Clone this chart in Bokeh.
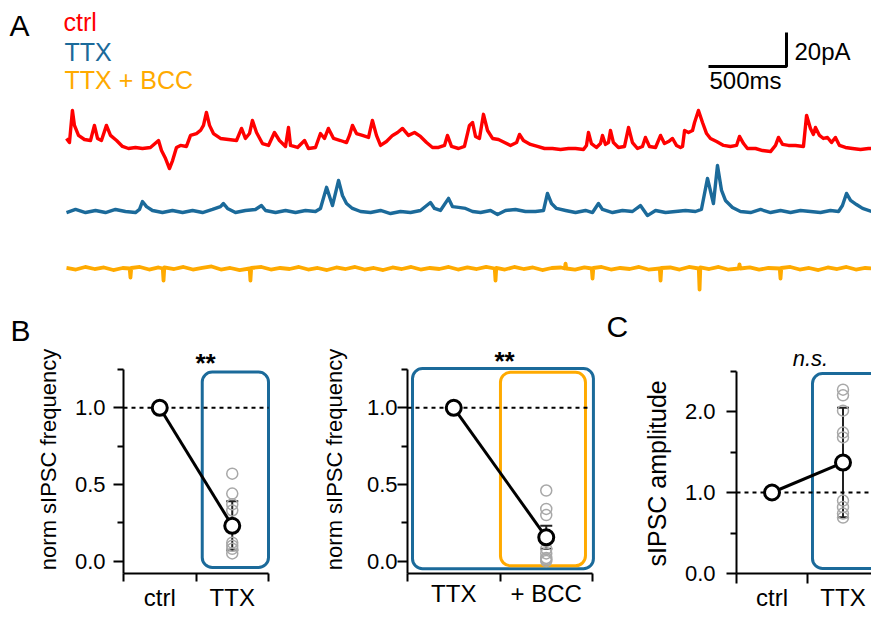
import numpy as np
from bokeh.plotting import figure
from bokeh.layouts import column, row
from bokeh.models import (BoxAnnotation, FixedTicker, Whisker, TeeHead, ColumnDataSource,
                          Range1d, NumeralTickFormatter, GlobalInlineStyleSheet)
from bokeh.embed import file_html
from bokeh.resources import INLINE
from bokeh.core.properties import value

FONT = "Liberation Sans"
RED = "#ff0000"
BLUE = "#1b6a9a"
ORANGE = "#ffaa00"
GREY = "#a8a8a8"
NBSP = "\u00a0"

# ------------------------------------------------------------------ data
trace_labels = ["ctrl", "TTX", "TTX + BCC"]
scale_bar_ms = 500
scale_bar_pA = 20

# ctrl trace (time in ms, current in pA relative to baseline, outward up)
ctrl_t = [0, 19, 38, 51, 77, 115, 154, 179, 199, 224,
          256, 282, 321, 359, 397, 442, 487, 538, 590, 609,
          635, 660, 680, 705, 731, 769, 795, 833, 859, 878,
          897, 917, 942, 987, 1038, 1090, 1122, 1147, 1173, 1192,
          1218, 1256, 1295, 1333, 1365, 1404, 1423, 1436, 1481, 1526,
          1551, 1596, 1628, 1654, 1679, 1712, 1756, 1795, 1814, 1833,
          1859, 1897, 1936, 1961, 1987, 2013, 2051, 2090, 2122, 2154,
          2192, 2231, 2269, 2308, 2346, 2385, 2423, 2442, 2468, 2513,
          2551, 2583, 2603, 2622, 2647, 2673, 2699, 2731, 2769, 2808,
          2846, 2885, 2904, 2929, 2974, 3019, 3064, 3115, 3167, 3218,
          3263, 3314, 3333, 3346, 3365, 3397, 3423, 3436, 3455, 3474,
          3487, 3506, 3538, 3577, 3603, 3628, 3660, 3692, 3711, 3737,
          3776, 3808, 3833, 3859, 3885, 3910, 3936, 3949, 3962, 3987,
          4013, 4026, 4051, 4077, 4103, 4128, 4167, 4212, 4256, 4295,
          4314, 4340, 4365, 4417, 4462, 4513, 4545, 4564, 4590, 4628,
          4673, 4724, 4744, 4769, 4788, 4801, 4827, 4852, 4878, 4904,
          4929, 4955, 4993, 5038, 5090, 5141, 5160]
ctrl_pA = [5.9, 3.5, 22.4, 13.6, 7.7, 5.3, 4.7, 13.6, 5.9, 4.7,
           13.6, 7.7, 4.7, 1.2, 0, 0.6, 0, 0.6, 4.7, -1.2,
           -5.9, -11.8, -7.1, 0.6, 1.8, 1.2, 7.7, 8.8, 10.6, 13.6,
           21.2, 13.6, 8.8, 5.9, 5.3, 4.7, 11.8, 5.9, 8.8, 16.5,
           9.4, 2.9, 1.8, 9.4, 4.7, 1.2, 12.4, 1.8, 0.6, 4.7,
           0, 0.6, 8.8, 5.9, 11.8, 5.9, 4.7, 3.5, 7.7, 13.6,
           8.8, 7.7, 6.5, 16.5, 7.7, 1.8, 4.1, 7.7, 9.4, 11.8,
           7.7, 9.4, 7.1, 3.5, 0.6, 0.6, 1.8, 7.7, 1.2, 0,
           1.2, 13.6, 15.3, 7.1, 5.9, 20.1, 10.6, 5.9, 5.3, 3.5,
           1.8, 3.5, 8.3, 4.7, 2.4, 1.2, 0, 0, -0.6, 0,
           0, -0.6, 1.8, 9.4, 2.9, 0.6, 2.9, 7.7, 2.4, 3.5,
           10.6, 3.5, 0.6, 1.2, 12.4, 3.5, 0, 1.2, 6.5, 1.2,
           0.6, 7.7, 2.9, 4.1, 5.9, 1.8, 0.6, 1.2, 10.6, 9.4,
           10.6, 15.3, 22.4, 15.3, 8.8, 5.9, 4.1, 1.8, 1.2, 1.8,
           7.1, 2.9, 0, 0, -1.2, -1.8, 1.8, 6.5, 2.4, 1.8,
           1.8, 1.2, 19.5, 11.8, 8.3, 12.4, 7.7, 5.9, 6.5, 3.5,
           6.5, 1.8, 0.6, 0, -0.6, 0, 0]

ttx_t = [0, 58, 122, 186, 250, 314, 378, 442, 468, 487,
         513, 551, 615, 679, 744, 808, 872, 936, 987, 1006,
         1032, 1083, 1147, 1211, 1250, 1276, 1340, 1404, 1468, 1532,
         1596, 1628, 1667, 1705, 1744, 1769, 1795, 1833, 1885, 1949,
         2013, 2077, 2141, 2205, 2269, 2333, 2359, 2397, 2449, 2474,
         2513, 2558, 2603, 2654, 2718, 2763, 2814, 2878, 2942, 3006,
         3058, 3083, 3109, 3141, 3199, 3263, 3327, 3372, 3410, 3436,
         3500, 3564, 3628, 3679, 3724, 3776, 3840, 3904, 3968, 4032,
         4070, 4109, 4147, 4173, 4199, 4224, 4269, 4320, 4385, 4449,
         4513, 4577, 4641, 4705, 4769, 4833, 4897, 4949, 4974, 5000,
         5026, 5064, 5103, 5160]
ttx_pA = [-0.6, 1.2, -0.6, 0.6, -0.6, 1.2, 0, -0.6, 1.2, 5.9,
          2.9, 0.6, -0.6, 0.6, -0.6, 0.6, -0.6, 1.2, 2.9, 4.7,
          1.8, -0.6, 0.6, 1.2, 3.5, 0.6, -0.6, 0.6, -0.6, 0.6,
          0, 1.8, 14.2, 3.5, 18.3, 9.4, 4.7, 1.8, 0, -0.6,
          0.6, -1.2, 0, -0.6, 0.6, 5.3, 1.8, 0.6, 7.7, 2.9,
          2.4, 1.8, 0, -0.6, 0.6, -1.8, 0.6, 1.2, 0, 0,
          0.6, 10.6, 4.7, 1.8, 0.6, -0.6, 0.6, -0.6, 4.7, 1.2,
          -0.6, 0.6, 0, 3.5, -2.4, 0.6, -0.6, 0, 0.6, 0,
          1.2, 19.5, 4.7, 27.1, 12.4, 6.5, 2.4, 0, -0.6, 1.2,
          -0.6, 0.6, -0.6, 0.6, 0, -0.6, 0.6, 0, 3.5, 10.6,
          6.5, 4.1, 1.8, 0]

bcc_t = [0, 60, 120, 180, 240, 300, 360, 405, 410, 415,
         470, 530, 590, 617, 622, 627, 690, 750, 810, 870,
         930, 990, 1050, 1110, 1174, 1179, 1184, 1250, 1310, 1370,
         1430, 1490, 1550, 1610, 1670, 1730, 1790, 1850, 1910, 1970,
         2030, 2090, 2150, 2210, 2270, 2330, 2390, 2450, 2510, 2570,
         2630, 2690, 2745, 2750, 2755, 2810, 2870, 2930, 2990, 3050,
         3110, 3170, 3194, 3199, 3204, 3260, 3320, 3367, 3372, 3377,
         3430, 3490, 3550, 3610, 3670, 3730, 3803, 3808, 3813, 3870,
         3930, 3990, 4053, 4058, 4063, 4120, 4180, 4240, 4309, 4314,
         4319, 4380, 4440, 4500, 4572, 4577, 4582, 4640, 4700, 4760,
         4820, 4880, 4940, 5000, 5060, 5120, 5160]
bcc_pA = [0.3, -0.6, 0.9, -0.3, 0.6, -0.9, 0.3, 0, -5.3, 0.3,
          0.9, -0.6, 0.6, 0, -7.1, 0.6, -0.3, 0.9, -0.6, 0.3,
          1.2, -0.6, 0.3, -0.9, 0, -7.1, 0.3, 0.9, -0.6, 0.3,
          -0.3, 0.9, -0.6, 0.3, -0.9, 0.6, -0.3, 0.9, -0.6, 0.3,
          -0.9, 0.6, -0.3, 0.9, -0.6, 0.3, -0.3, 0.9, -0.6, 0.6,
          -0.3, 0.9, 0, -7.1, 0.3, -0.6, 0.9, -0.3, 0.6, -0.9,
          0.3, 0.6, 0, 2.9, 0, -0.6, 0.6, 0, -5.9, 0.3,
          0.9, -0.6, 0.3, -0.3, 0.9, -0.6, 0, -7.1, 0.3, 0.6,
          -0.6, 0.9, 0, -12.4, 0.6, -0.3, 0.9, -0.6, 0, 2.4,
          0, 0.6, -0.6, 0.3, 0, -5.9, 0.3, 0.9, -0.6, 0.3,
          -0.9, 0.6, -0.3, 0.9, -0.6, 0.3, 0]

# panel B (left): normalised sIPSC frequency, ctrl vs TTX
b1_cats = ["ctrl", "TTX"]
b1_means = [1.0, 0.23]
b1_sd = 0.16
b1_cells = [0.57, 0.44, 0.37, 0.33, 0.12, 0.10, 0.08, 0.05]
b1_sig = "**"

# panel B (right): normalised sIPSC frequency, TTX vs TTX + BCC
b2_cats = ["TTX", "+ BCC"]
b2_means = [1.0, 0.155]
b2_sd = 0.075
b2_cells = [0.46, 0.34, 0.30, 0.13, 0.08, 0.05, 0.02, 0.01, 0.0]
b2_sig = "**"

# panel C: sIPSC amplitude, ctrl vs TTX
c_cats = ["ctrl", "TTX"]
c_means = [1.0, 1.37]
c_sd = 0.675
c_cells = [2.27, 2.20, 2.01, 1.74, 1.68, 0.90, 0.82, 0.74, 0.69]
c_sig = "n.s."

freq_ticks = [0.0, 0.5, 1.0]
freq_minor = [0.25, 0.75, 1.25]
amp_ticks = [0.0, 1.0, 2.0]
amp_minor = [0.5, 1.5, 2.5]

# text baseline correction (svg text sits lower than requested)
BFIX = 0.3

# ------------------------------------------------------------------ panel A
MS_PER_PX = 500 / 78.0
PA_PER_PX = 20 / 34.0
A_H = 345


def ax(px):
    return (px - 66) * MS_PER_PX


def ay(py):
    return (148 - py) * PA_PER_PX


def aty(py, size):
    return ay(py - BFIX * size)


pA = figure(width=871, height=A_H, x_range=Range1d(ax(0), ax(871)),
            y_range=Range1d(ay(A_H), ay(0)), output_backend="svg",
            toolbar_location=None, min_border=0, outline_line_color=None,
            x_axis_location=None, y_axis_location=None)
pA.grid.visible = False

offsets = [0.0, ay(211), ay(268)]
for tt, vv, col, off, lw in [(ctrl_t, ctrl_pA, RED, offsets[0], 3.4),
                            (ttx_t, ttx_pA, BLUE, offsets[1], 3.4),
                            (bcc_t, bcc_pA, ORANGE, offsets[2], 3.8)]:
    pA.line(tt, np.array(vv) + off, line_color=col, line_width=lw, line_join="round")


def atext(px, py, txt, size, color="black"):
    pA.text(x=[ax(px)], y=[aty(py, size)], text=[txt], text_color=color,
            text_font=value(FONT), text_font_size=f"{size}px",
            text_align="left", text_baseline="alphabetic")


# legend-like coloured labels
atext(63, 29, trace_labels[0], 25, RED)
atext(64, 59, trace_labels[1], 25, BLUE)
atext(64, 87, trace_labels[2], 25, ORANGE)

# scale bar
sb_x1 = ax(786)
sb_y0 = ay(66)
pA.line([sb_x1 - scale_bar_ms, sb_x1, sb_x1], [sb_y0, sb_y0, sb_y0 + scale_bar_pA],
        line_color="black", line_width=3)
atext(794, 58, f"{scale_bar_pA}pA", 24)
atext(709, 87, f"{scale_bar_ms}ms", 24)

# panel letters
atext(9, 34, "A", 30)
atext(10, 338.5, "B", 30)
atext(606, 335, "C", 30)

# ------------------------------------------------------------------ panels B, C
ROW_TOP = A_H
ROW_BOTTOM = 665   # extends below the window; the overflow is hidden
ROW_H = ROW_BOTTOM - ROW_TOP


def make_panel(width, border_left, frame_bottom, x_end, y0, y1, major, minor,
               y_top, x_bound_end, cats, ylabel, ylabel_size, y_std, ylab_std, x_tick, x_std):
    p = figure(width=width, height=ROW_H, x_range=Range1d(0, x_end), y_range=Range1d(y0, y1),
               output_backend="svg", toolbar_location=None, min_border_left=border_left,
               min_border_right=0, min_border_top=0,
               min_border_bottom=ROW_BOTTOM - frame_bottom, outline_line_color=None)
    p.grid.visible = False
    yax = p.yaxis[0]
    yax.ticker = FixedTicker(ticks=major, minor_ticks=minor)
    yax.formatter = NumeralTickFormatter(format="0.0")
    yax.bounds = (y0, y_top)
    yax.major_tick_out = 10
    yax.major_tick_in = 0
    yax.minor_tick_out = 6
    yax.minor_tick_in = 0
    yax.axis_line_width = 2
    yax.major_tick_line_width = 2
    yax.minor_tick_line_width = 2
    yax.major_label_text_font = FONT
    yax.major_label_text_font_size = "22px"
    yax.major_label_text_color = "black"
    yax.major_label_standoff = y_std
    yax.axis_label = ylabel
    yax.axis_label_text_font = FONT
    yax.axis_label_text_font_size = f"{ylabel_size}px"
    yax.axis_label_text_font_style = "normal"
    yax.axis_label_text_color = "black"
    yax.axis_label_standoff = ylab_std

    xax = p.xaxis[0]
    xax.ticker = FixedTicker(ticks=[0.5, 1.5], minor_ticks=[0, 1, 2])
    xax.major_label_overrides = {0.5: cats[0], 1.5: cats[1]}
    xax.bounds = (0, x_bound_end)
    xax.major_tick_out = x_tick
    xax.major_tick_in = 0
    xax.major_tick_line_color = None
    xax.minor_tick_out = x_tick
    xax.minor_tick_in = 0
    xax.axis_line_width = 2
    xax.minor_tick_line_width = 2
    xax.major_label_text_font = FONT
    xax.major_label_text_font_size = "24px"
    xax.major_label_text_color = "black"
    xax.major_label_standoff = x_std
    return p


def add_data(p, means, sd, cells, dot_end):
    xs = [0.5, 1.5]
    p.line([0, dot_end], [1.0, 1.0], line_color="black", line_width=2, line_dash="4 4")
    src = ColumnDataSource(dict(x=[1.5], upper=[means[1] + sd], lower=[means[1] - sd]))
    w = Whisker(source=src, base="x", upper="upper", lower="lower", line_width=2,
                line_color="#222222", level="underlay",
                upper_head=TeeHead(size=12, line_width=2, line_color="#222222"),
                lower_head=TeeHead(size=12, line_width=2, line_color="#222222"))
    p.add_layout(w)
    p.scatter([1.5] * len(cells), cells, size=11, fill_color=None, line_color=GREY,
              line_width=1.5)
    p.line(xs, means, line_color="black", line_width=3)
    p.scatter(xs, means, size=15, fill_color="white", line_color="black", line_width=3)


def box(p, l, r, t, b, color):
    p.add_layout(BoxAnnotation(left=l, right=r, top=t, bottom=b, fill_color=None,
                               fill_alpha=0, line_color=color, line_alpha=1.0,
                               line_width=3, border_radius=10, level="underlay"))


def ptext(p, x, y, txt, size, style="normal"):
    p.text(x=[x], y=[y], text=[txt], text_font=value(FONT), text_font_size=f"{size}px",
           text_font_style=style, text_align="center", text_baseline="alphabetic",
           text_color="black")


# B panels: x-axis (frame bottom) at y=583, y=0 at 570, 160 px/unit
B_BOT = 583


def by(py, size=0):
    return (570 - (py - BFIX * size)) / 160


def b1x(px):
    return (px - 123) / 72.5


def b2x(px):
    return (px - 407) / 92.5


B_Y0, B_Y1 = by(B_BOT), by(ROW_TOP)
B_YLABEL = "norm sIPSC frequency"
# trailing no-break spaces move the centred y label down along the axis
C_YLABEL = "sIPSC amplitude" + NBSP * 4

pB1 = make_panel(300, 123, B_BOT, b1x(300), B_Y0, B_Y1, freq_ticks, freq_minor,
                 1.25, 2, b1_cats, B_YLABEL, 22, 8, 11, 8, 2)
box(pB1, 1.086, 2.0, 1.233, -0.042, BLUE)
add_data(pB1, b1_means, b1_sd, b1_cells, 2.0)
ptext(pB1, b1x(205), by(371, 26), b1_sig, 26, "bold")

pB2 = make_panel(300, 107, B_BOT, b2x(600), B_Y0, B_Y1, freq_ticks, freq_minor,
                 1.25, 2, b2_cats, B_YLABEL, 22, 0, 17, 8, -2)
box(pB2, 0.054, 2.01, 1.256, -0.05, BLUE)
box(pB2, 1.005, 1.924, 1.231, -0.031, ORANGE)
add_data(pB2, b2_means, b2_sd, b2_cells, 1.946)
ptext(pB2, b2x(504), by(369, 26), b2_sig, 26, "bold")

# C panel: axis x=736, x-axis y=573 (=0), 81 px/unit, 71 px/category
C_BOT = 573


def cx(px):
    return (px - 736) / 71


def cy(py, size=0):
    return (573 - (py - BFIX * size)) / 81


pC = make_panel(271, 136, C_BOT, cx(871), 0, cy(ROW_TOP), amp_ticks, amp_minor,
                2.5, cx(871), c_cats, C_YLABEL, 25, 11, 11, 10, 0)
box(pC, 1.07, 2.3, 2.469, 0.062, BLUE)
add_data(pC, c_means, c_sd, c_cells, 2.0)
ptext(pC, cx(810), cy(365, 22), c_sig, 22, "italic")

layout = column(pA, row(pB1, pB2, pC, spacing=0), spacing=0,
                stylesheets=[GlobalInlineStyleSheet(css="html, body { overflow: hidden; }")])

open("out.html", "w").write(file_html(layout, INLINE))
